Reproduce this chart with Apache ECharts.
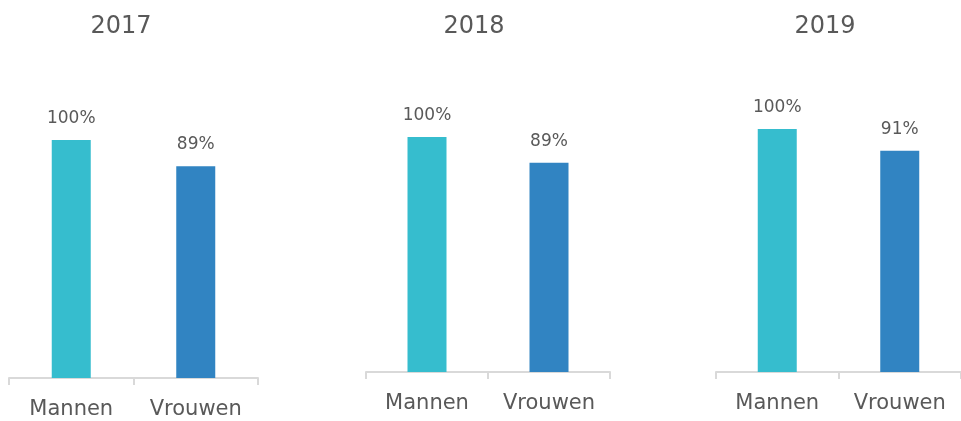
<!DOCTYPE html>
<html>
<head>
<meta charset="utf-8">
<script src="https://cdn.jsdelivr.net/npm/echarts@6/dist/echarts.min.js"></script>
<style>
  html, body { margin: 0; padding: 0; background: #fff; }
  #chart { width: 961px; height: 421px; }
</style>
</head>
<body>
<div id="chart"></div>
<script>
// Share per year, men vs women (percent)
const years = ['2017', '2018', '2019'];
const categories = ['Mannen', 'Vrouwen'];
const values2017 = [100, 89];
const values2018 = [100, 89];
const values2019 = [100, 91];
const panelValues = [values2017, values2018, values2019];

const barColors = ['#36BDCE', '#3184C2'];
const textColor = '#595959';
const fontFamily = '"DejaVu Sans", sans-serif';

// Panel geometry: each year gets its own grid
const panels = [
  { left: 9,   width: 249, top: 140, bottom: 421 - 378 },
  { left: 366, width: 244, top: 137, bottom: 421 - 372 },
  { left: 716, width: 248, top: 129, bottom: 421 - 372 }
];
const titleCenters = [116, 469, 820];

const option = {
  animation: false,
  backgroundColor: '#ffffff',
  title: years.map((y, i) => ({
    text: y,
    left: titleCenters[i],
    top: 10,
    textAlign: 'center',
    textStyle: { color: textColor, fontSize: 24, fontWeight: 'normal', fontFamily }
  })),
  grid: panels.map(p => ({ left: p.left, width: p.width, top: p.top, bottom: p.bottom, containLabel: false })),
  xAxis: panels.map((p, i) => ({
    type: 'category',
    gridIndex: i,
    data: categories,
    boundaryGap: true,
    axisLine: { show: true, lineStyle: { color: '#D9D9D9', width: 2 } },
    axisTick: { show: true, interval: 0, length: 7, lineStyle: { color: '#D9D9D9', width: 2 } },
    axisLabel: { interval: 0, hideOverlap: false, color: textColor, fontSize: 21, fontFamily, margin: 21 }
  })),
  yAxis: panels.map((p, i) => ({
    type: 'value',
    gridIndex: i,
    min: 0,
    max: 100,
    show: false,
    splitLine: { show: false }
  })),
  series: panelValues.map((vals, i) => ({
    type: 'bar',
    xAxisIndex: i,
    yAxisIndex: i,
    barWidth: 39,
    data: vals.map((v, j) => ({ value: v, itemStyle: { color: barColors[j] } })),
    label: {
      show: true,
      position: 'top',
      distance: 13,
      formatter: p => p.value + '%',
      color: textColor,
      fontSize: 17,
      fontFamily
    }
  }))
};

const chart = echarts.init(document.getElementById('chart'), null, { renderer: 'canvas' });
chart.setOption(option);
</script>
</body>
</html>
